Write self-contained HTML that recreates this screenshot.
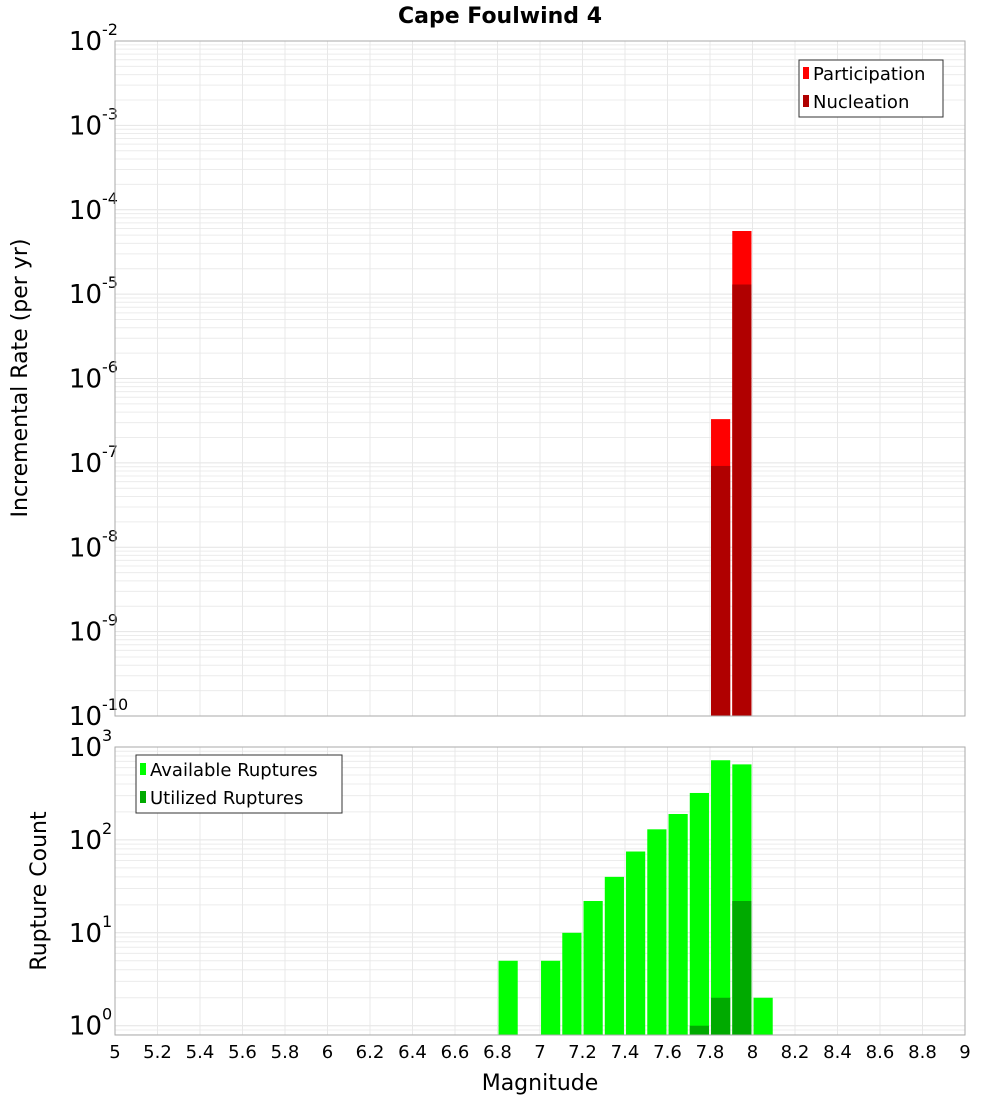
<!DOCTYPE html>
<html><head><meta charset="utf-8"><style>
body{margin:0;background:#fff;}
svg{display:block;font-family:"DejaVu Sans","Liberation Sans",sans-serif;}
</style></head><body>
<svg id="chart" width="1000" height="1100" viewBox="0 0 1000 1100" xmlns="http://www.w3.org/2000/svg">
<text x="500" y="23" text-anchor="middle" font-size="22" font-weight="bold">Cape Foulwind 4</text>
<g id="top"></g><g id="bot"></g>
<text transform="translate(27,378) rotate(-90)" text-anchor="middle" font-size="22">Incremental Rate (per yr)</text>
<text transform="translate(46,891) rotate(-90)" text-anchor="middle" font-size="22">Rupture Count</text>
<text x="540" y="1090" text-anchor="middle" font-size="22">Magnitude</text>
<g>
<rect x="799" y="60" width="144" height="57" fill="#fff" stroke="#333"/>
<rect x="803" y="67" width="6" height="12" fill="#ff0000"/><text x="813" y="80" font-size="18">Participation</text>
<rect x="803" y="95" width="6" height="12" fill="#b00000"/><text x="813" y="108" font-size="18">Nucleation</text>
</g>
<g>
<rect x="136" y="755" width="206" height="58" fill="#fff" stroke="#333"/>
<rect x="140" y="763" width="6" height="12" fill="#00ff00"/><text x="150" y="776" font-size="18">Available Ruptures</text>
<rect x="140" y="791" width="6" height="12" fill="#00aa00"/><text x="150" y="804" font-size="18">Utilized Ruptures</text>
</g>
</svg>
<script>
const partMags=[7.85,7.95];
const partRates=[3.3e-7,5.6e-5];
const nuclMags=[7.85,7.95];
const nuclRates=[9.2e-8,1.3e-5];
const availMags=[6.85,7.05,7.15,7.25,7.35,7.45,7.55,7.65,7.75,7.85,7.95,8.05];
const availCounts=[5,5,10,22,40,75,130,190,320,720,650,2];
const usedMags=[7.75,7.85,7.95];
const usedCounts=[1,2,22];
const xTicks=[5,5.2,5.4,5.6,5.8,6,6.2,6.4,6.6,6.8,7,7.2,7.4,7.6,7.8,8,8.2,8.4,8.6,8.8,9];
const NS="http://www.w3.org/2000/svg";
const X0=115,X1=965;
const x=m=>X0+(m-5)/4*(X1-X0);
function mk(p,t,a){const e=document.createElementNS(NS,t);for(const k in a)e.setAttribute(k,a[k]);p.appendChild(e);return e;}
function panel(g,top,bot,dmin,dmax,lmin){
 const y=v=>bot-(Math.log10(v)-lmin)/(dmax-lmin)*(bot-top);
 for(let d=Math.floor(lmin);d<dmax;d++)for(let k=1;k<10;k++){const v=k*Math.pow(10,d);const yy=y(v);if(yy<top-0.1||yy>bot)continue;
  const l=mk(g,'line',{x1:X0,x2:X1,y1:yy,y2:yy,stroke:k==1?'#e4e4e4':'#ececec','stroke-width':1});
  
  }
 xTicks.forEach(t=>{const l=mk(g,'line',{x1:x(t),x2:x(t),y1:top,y2:bot,stroke:'#e8e8e8'});
  
  });
 for(let d=dmin;d<=dmax;d++){const t=mk(g,'text',{x:102,y:y(Math.pow(10,d))+9,'text-anchor':'end','font-size':26});t.textContent='10';
  
  
  const s=mk(g,'text',{x:102,y:y(Math.pow(10,d))-6,'font-size':16});s.textContent=String(d);
  
  }
 return y;
}
const gt=document.getElementById('top'),gb=document.getElementById('bot');
const yt=panel(gt,41,716,-10,-2,-10);
const yb=panel(gb,747,1035,0,3,-0.1);
function bars(g,y,bot,ms,vs,col,name){ms.forEach((m,i)=>{const yy=y(vs[i]);const r=mk(g,'rect',{x:x(m)-9.6,y:yy,width:19.2,height:bot-yy,fill:col});
 
 });}
bars(gt,yt,716,partMags,partRates,'#ff0000','participation-bar');
bars(gt,yt,716,nuclMags,nuclRates,'#b00000','nucleation-bar');
bars(gb,yb,1035,availMags,availCounts,'#00ff00','available-bar');
bars(gb,yb,1035,usedMags,usedCounts,'#00aa00','utilized-bar');
mk(gt,'rect',{x:X0,y:41,width:X1-X0,height:675,fill:'none',stroke:'#aaa'});
mk(gb,'rect',{x:X0,y:747,width:X1-X0,height:288,fill:'none',stroke:'#aaa'});
xTicks.forEach(t=>{const e=mk(gb,'text',{x:x(t),y:1058,'text-anchor':'middle','font-size':18});e.textContent=String(t);
 
 });
</script>
</body></html>
